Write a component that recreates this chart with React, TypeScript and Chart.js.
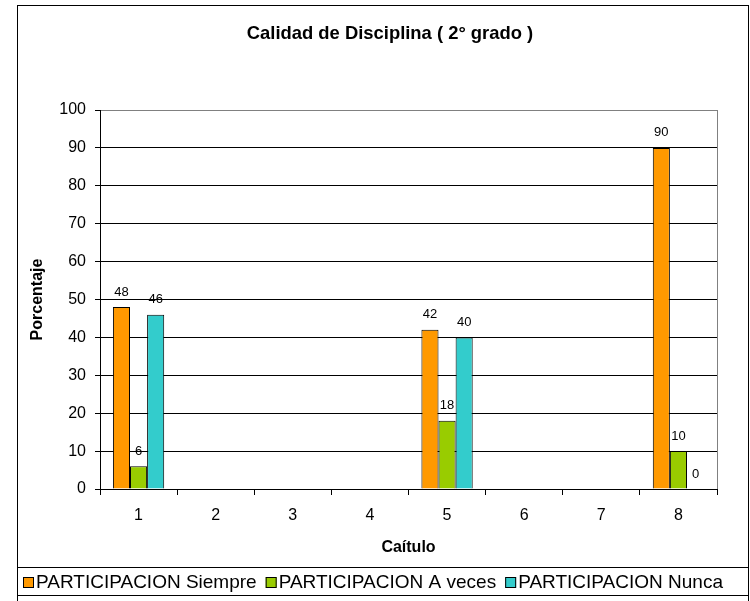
import React, { useEffect, useRef } from "react";
import { Chart, registerables } from "chart.js";

Chart.register(...registerables);

const FONT = "'Liberation Sans', Arial, sans-serif";

const chartTitle = "Calidad de Disciplina ( 2° grado )";
const xTitle = "Caítulo";
const yTitle = "Porcentaje";

const categories = ["1", "2", "3", "4", "5", "6", "7", "8"];
const seriesNames = ["PARTICIPACION Siempre", "PARTICIPACION A veces", "PARTICIPACION Nunca"];
const siempre = [48, null, null, null, 42, null, null, 90];
const aVeces = [6, null, null, null, 18, null, null, 10];
const nunca = [46, null, null, null, 40, null, null, 0];
const seriesColors = ["#FF9900", "#99CC00", "#33CCCC"];
const yMin = 0;
const yMax = 100;
const yStep = 10;

const decorPlugin = {
  id: "decor",
  beforeDraw(chart: any) {
    const ctx = chart.ctx;
    ctx.save();
    ctx.fillStyle = "#ffffff";
    ctx.fillRect(0, 0, chart.width, chart.height);
    ctx.restore();
  },
  afterDatasetsDraw(chart: any) {
    const ctx = chart.ctx;
    ctx.save();
    ctx.font = `13px ${FONT}`;
    ctx.fillStyle = "#000";
    ctx.textAlign = "center";
    ctx.textBaseline = "middle";
    chart.data.datasets.forEach((ds: any, di: number) => {
      const meta = chart.getDatasetMeta(di);
      meta.data.forEach((el: any, i: number) => {
        const v = ds.data[i];
        if (v === null || v === undefined) return;
        ctx.fillText(String(v), el.x, el.y - 15);
      });
    });
    ctx.restore();
  },
  afterDraw(chart: any) {
    const ctx = chart.ctx;
    const area = chart.chartArea;
    ctx.save();
    // plot border top/right (gray)
    ctx.strokeStyle = "#808080";
    ctx.lineWidth = 1;
    ctx.beginPath();
    ctx.moveTo(Math.round(area.right) + 0.5, Math.round(area.top));
    ctx.lineTo(Math.round(area.right) + 0.5, Math.round(area.bottom));
    ctx.stroke();

    // outer frame
    ctx.strokeStyle = "#000";
    ctx.strokeRect(17.5, 5.5, 731, 700);

    // title
    ctx.fillStyle = "#000";
    ctx.font = `bold 18.4px ${FONT}`;
    ctx.textAlign = "center";
    ctx.textBaseline = "middle";
    ctx.fillText(chartTitle, 390, 34);

    // legend
    ctx.strokeRect(17.5, 567.5, 731, 28);
    ctx.font = `19px ${FONT}`;
    ctx.textAlign = "left";
    let x = 23;
    chart.data.datasets.forEach((ds: any) => {
      ctx.fillStyle = ds.backgroundColor;
      ctx.fillRect(x, 577, 11, 11);
      ctx.strokeStyle = "#000";
      ctx.strokeRect(x + 0.5, 577.5, 10, 10);
      ctx.fillStyle = "#000";
      ctx.fillText(ds.label, x + 13, 583);
      x += 13 + ctx.measureText(ds.label).width + 9;
    });
    ctx.restore();
  },
};

export default function App() {
  const ref = useRef<HTMLCanvasElement | null>(null);

  useEffect(() => {
    if (!ref.current) return;
    const data = [siempre, aVeces, nunca];
    const chart = new Chart(ref.current, {
      type: "bar",
      data: {
        labels: categories,
        datasets: seriesNames.map((name, i) => ({
          label: name,
          data: data[i],
          backgroundColor: seriesColors[i],
          borderColor: "#000",
          borderWidth: 1,
          categoryPercentage: 0.665,
          barPercentage: 1.0,
        })),
      },
      options: {
        animation: false,
        responsive: false,
        maintainAspectRatio: false,
        layout: { padding: { top: 110, left: 0, right: 33, bottom: 41 } },
        plugins: {
          legend: { display: false },
          title: { display: false },
          tooltip: { enabled: false },
        },
        scales: {
          x: {
            afterFit: (s: any) => {
              s.height = 71;
            },
            grid: {
              display: true,
              drawOnChartArea: false,
              drawTicks: true,
              tickLength: 6,
              color: "#000",
              offset: true,
            },
            border: { display: true, color: "#000" },
            ticks: {
              color: "#000",
              font: { family: FONT, size: 16 },
              padding: 11.4,
              maxRotation: 0,
            },
            title: {
              display: true,
              text: xTitle,
              color: "#000",
              font: { family: FONT, size: 16, weight: "bold" },
              padding: { top: 0, bottom: 2.4 },
            },
          },
          y: {
            min: yMin,
            max: yMax,
            afterFit: (s: any) => {
              s.width = 100;
            },
            grid: {
              color: (c: any) => (c.tick && c.tick.value === yMax ? "#808080" : "#000"),
              tickColor: "#000",
              tickLength: 5,
              drawTicks: true,
            },
            border: { display: true, color: "#000" },
            ticks: {
              stepSize: yStep,
              color: "#000",
              font: { family: FONT, size: 16 },
              padding: 9,
            },
            title: {
              display: true,
              text: yTitle,
              color: "#000",
              font: { family: FONT, size: 16, weight: "bold" },
              padding: { top: 28.4, bottom: 0 },
            },
          },
        },
      },
      plugins: [decorPlugin],
    } as any);
    return () => chart.destroy();
  }, []);

  return (
    <div style={{ position: "absolute", left: 0, top: 0, width: 750, height: 601 }}>
      <canvas ref={ref} width={750} height={601} style={{ width: 750, height: 601, display: "block" }} />
    </div>
  );
}
